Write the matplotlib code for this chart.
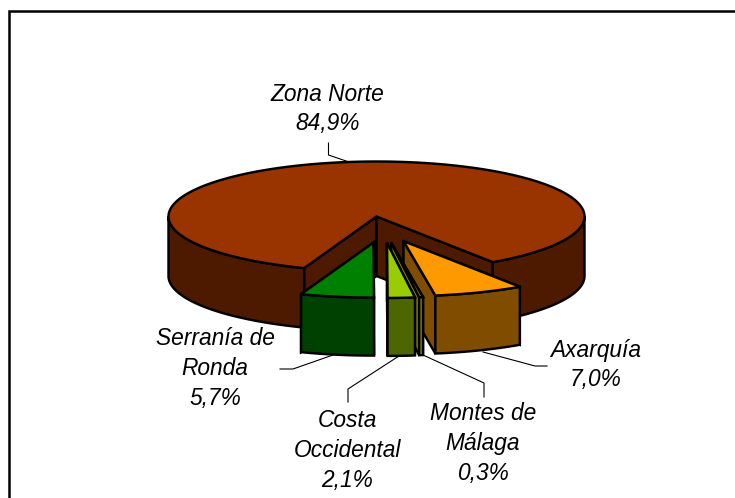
import numpy as np
import matplotlib
matplotlib.use("Agg")
import matplotlib.pyplot as plt
from matplotlib.patches import Polygon

# Data: shares in percent, clockwise from the right-hand edge of the front gap
categories = ["Axarquía", "Montes de\nMálaga", "Costa\nOccidental", "Serranía de\nRonda", "Zona Norte"]
shares = [7.0, 0.3, 2.1, 5.7, 84.9]
share_labels = ["7,0%", "0,3%", "2,1%", "5,7%", "84,9%"]
top_colors = ["#FF9900", "#808000", "#99CC00", "#008000", "#993300"]
side_colors = ["#804D00", "#808000", "#4D6600", "#004000", "#4D1A00"]

W, H = 735, 498
CX, CY, RX, RY = 376.5, 216.5, 208.0, 55.0
DEPTH_BODY, DEPTH_SLICE = 59.5, 58.0
START = -56.0
EX_X0, EX_XK, EX_YK = 6.7, 55.7, 26.5
LW = 1.75

fig = plt.figure(figsize=(W / 100, H / 100), dpi=100, facecolor="white")
ax = fig.add_axes([0, 0, 1, 1])
ax.set_xlim(0, W)
ax.set_ylim(H, 0)
ax.axis("off")


def arc(cx, cy, a1, a2):
    n = max(3, int(abs(a2 - a1) * 2))
    t = np.radians(np.linspace(a1, a2, n))
    return np.column_stack([cx + RX * np.cos(t), cy - RY * np.sin(t)])


def poly(pts, color, z):
    ax.add_patch(Polygon(pts, closed=True, facecolor=color, edgecolor="black",
                         linewidth=LW, joinstyle="miter", zorder=z))


def draw_wedge(cx, cy, a1, a2, rims, depth, top, side, z):
    apex = np.array([[cx, cy]])
    drop = np.array([0, depth])
    for a in (a1, a2):
        edge = np.vstack([apex, arc(cx, cy, a, a)[:1]])
        poly(np.vstack([edge, (edge + drop)[::-1]]), side, z)
    for s1, s2 in rims:
        rim = arc(cx, cy, s1, s2)
        poly(np.vstack([rim, (rim + drop)[::-1]]), side, z + 0.1)
    poly(np.vstack([apex, arc(cx, cy, a1, a2)]), top, z + 0.2)


sweeps = np.array(shares) / sum(shares) * 360.0
edges = START - np.concatenate([[0], np.cumsum(sweeps)])

# main body: its rim shows on both sides of the front gap
i = len(shares) - 1
draw_wedge(CX, CY, edges[i], edges[i + 1],
           [(-180.0, edges[i]), (edges[i + 1] + 360.0, 0.0)],
           DEPTH_BODY, top_colors[i], side_colors[i], 1)

# exploded slices, each painted over the one to its right
for k in range(len(shares) - 1):
    a1, a2 = edges[k], edges[k + 1]
    mid = np.radians((a1 + a2) / 2)
    cx = CX + EX_X0 + EX_XK * np.cos(mid)
    cy = CY - EX_YK * np.sin(mid)
    draw_wedge(cx, cy, a1, a2, [(a2, a1)], DEPTH_SLICE, top_colors[k], side_colors[k], 2 + k)

# leader lines (layout only)
leaders = [
    [(483, 352), (535, 366), (547, 366)],
    [(484, 397), (484, 383), (423, 355)],
    [(348, 402), (348, 389), (399, 356)],
    [(280, 369), (293, 369), (333, 355)],
    [(328.5, 143), (328.5, 155), (349, 162)],
]
for pts in leaders:
    xs, ys = zip(*pts)
    ax.plot(xs, ys, color="black", lw=0.8, solid_joinstyle="miter", zorder=0.5)

# labels (layout only)
label_pos = [(596, 365), (483, 443.5), (347, 450.5), (215, 368.5), (327.5, 109)]
for i, (x, y) in enumerate(label_pos):
    ax.text(x, y, categories[i] + "\n" + share_labels[i], ha="center", va="center",
            family="Liberation Sans", style="italic", fontsize=16.4, color="black",
            linespacing=1.37, zorder=10)

# outer frame: left and top only
ax.plot([9.5, 9.5, W], [H, 11, 11], color="black", lw=1.8, solid_joinstyle="miter", zorder=20)

fig.savefig("out.png", dpi=100, facecolor="white")
